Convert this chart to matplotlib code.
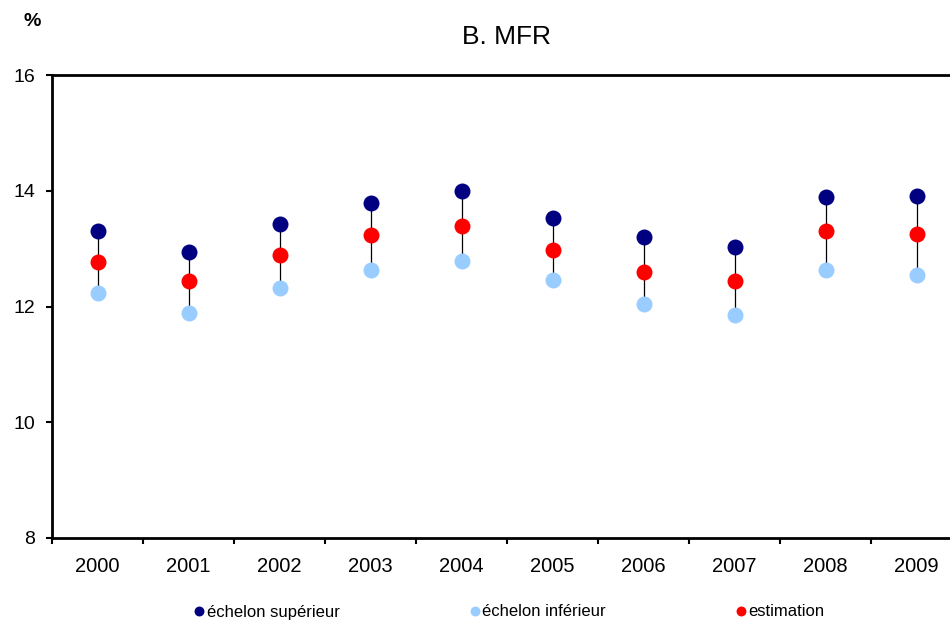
import matplotlib
matplotlib.use("Agg")
import matplotlib.pyplot as plt

plt.rcParams['font.family'] = ['Liberation Sans', 'DejaVu Sans']

years = ['2000', '2001', '2002', '2003', '2004', '2005', '2006', '2007', '2008', '2009']
upper = [13.31, 12.94, 13.43, 13.79, 14.00, 13.53, 13.20, 13.03, 13.89, 13.91]
estimate = [12.77, 12.44, 12.89, 13.24, 13.39, 12.98, 12.60, 12.44, 13.31, 13.25]
lower = [12.23, 11.89, 12.32, 12.63, 12.79, 12.46, 12.04, 11.85, 12.63, 12.55]
yticks = [8, 10, 12, 14, 16]

fig = plt.figure(figsize=(9.5, 6.25), dpi=100)
W, H = 950, 625
ax = fig.add_axes([52 / W, 1 - 538 / H, 910 / W, 463 / H])

x = list(range(len(years)))
ax.vlines(x, lower, upper, colors='black', linewidth=0.9, zorder=1)
ms = 11.5
ax.plot(x, upper, 'o', color='#000080', markersize=ms, markeredgewidth=0, zorder=3, label='échelon supérieur')
ax.plot(x, lower, 'o', color='#99CCFF', markersize=ms, markeredgewidth=0, zorder=3, label='échelon inférieur')
ax.plot(x, estimate, 'o', color='#FF0000', markersize=ms, markeredgewidth=0, zorder=3, label='estimation')

ax.set_xlim(-0.5, len(years) - 0.5)
ax.set_ylim(8, 16)
ax.set_yticks(yticks)
ax.set_yticklabels([str(t) for t in yticks], fontsize=14)
ax.set_xticks(x)
ax.set_xticklabels(years, fontsize=14.5)
ax.set_xticks([i - 0.5 for i in range(len(years) + 1)], minor=True)
ax.tick_params(axis='x', which='major', length=0, pad=14)
ax.tick_params(axis='x', which='minor', length=4, width=1.5, direction='out')
ax.tick_params(axis='y', length=4, width=1.5, direction='out', pad=8)

for s in ['left', 'bottom', 'top', 'right']:
    ax.spines[s].set_linewidth(2)
    ax.spines[s].set_color('black')

ax.set_title('B. MFR', fontsize=19, pad=22)
fig.text(32 / W, 1 - 22 / H, '%', fontsize=14, fontweight='bold', ha='center', va='center')

handles, labels = ax.get_legend_handles_labels()
fig.legend(handles, labels,
           loc='center', bbox_to_anchor=(0.536, 1 - 612 / H), ncol=3, frameon=False,
           fontsize=12, markerscale=0.62, handlelength=0.6, handletextpad=0.15,
           columnspacing=7.8)

fig.savefig('out.png', dpi=100)
